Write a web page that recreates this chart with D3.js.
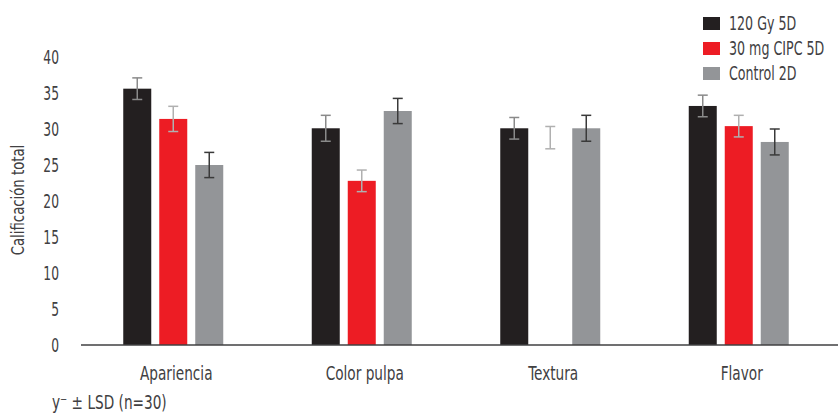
<!DOCTYPE html>
<html>
<head>
<meta charset="utf-8">
<script src="https://cdn.jsdelivr.net/npm/d3@7"></script>
<style>
  body { margin: 0; background: #fff; }
  svg text { font-family: "DejaVu Sans Condensed", "DejaVu Sans", sans-serif; fill: #414042; }
</style>
</head>
<body>
<svg id="chart" width="838" height="417"></svg>
<script>
// data
var categories = ["Apariencia", "Color pulpa", "Textura", "Flavor"];
var seriesNames = ["120 Gy 5D", "30 mg CIPC 5D", "Control 2D"];
var gy120 = [35.6, 30.1, 30.1, 33.2];
var gy120Err = [1.5, 1.8, 1.5, 1.5];
var cipc30 = [31.4, 22.8, 28.8, 30.4];
var cipc30Err = [1.75, 1.5, 1.55, 1.5];
var control2d = [25.0, 32.5, 30.1, 28.2];
var control2dErr = [1.75, 1.75, 1.8, 1.8];
var yTicks = [0, 5, 10, 15, 20, 25, 30, 35, 40];
// in the original the CIPC bar for Textura is not drawn, only its error bar
var hiddenBars = [["Textura", "30 mg CIPC 5D"]];

var colors = ["#231f20", "#ed1c24", "#939598"];
var errColors = ["#8a8a8a", "#b0b0b0", "#3a3a3a"];

var values = [gy120, cipc30, control2d];
var errs = [gy120Err, cipc30Err, control2dErr];

var rows = [];
categories.forEach(function(c, i) {
    seriesNames.forEach(function(s, j) {
        rows.push({cat: c, series: s, si: j, v: values[j][i], e: errs[j][i]});
    });
});

var svg = d3.select("#chart");

var y = d3.scaleLinear().domain([0, 40]).range([345, 57]);
var x0 = d3.scaleBand().domain(categories).range([79, 833]);
var x1 = d3.scaleBand().domain(seriesNames).range([-50, 50]).paddingInner(0.222);

function isHidden(d) {
    return hiddenBars.some(function(h) { return h[0] == d.cat && h[1] == d.series; });
}

// no condensed font available, so squeeze the text horizontally
function narrow(sel, size, sx) {
    sel.style("font-size", size + "px")
        .attr("font-family", null)
        .attr("transform", function() {
            var t = d3.select(this).attr("transform") || "";
            return t + " scale(" + sx + ",1)";
        });
}

// bars
svg.append("g").selectAll("rect")
    .data(rows)
    .enter()
    .append("rect")
    .attr("x", function(d) { return x0(d.cat) + x0.bandwidth() / 2 + x1(d.series); })
    .attr("y", function(d) { return y(d.v); })
    .attr("width", x1.bandwidth())
    .attr("height", function(d) { return y(0) - y(d.v); })
    .attr("fill", function(d) { return isHidden(d) ? "none" : colors[d.si]; });

// error bars
var eb = svg.append("g").selectAll("g")
    .data(rows)
    .enter()
    .append("g")
    .attr("stroke", function(d) { return errColors[d.si]; })
    .attr("stroke-width", 1.5)
    .attr("transform", function(d) {
        return "translate(" + (x0(d.cat) + x0.bandwidth() / 2 + x1(d.series) + x1.bandwidth() / 2) + ",0)";
    });
eb.append("line")
    .attr("y1", function(d) { return y(d.v + d.e); })
    .attr("y2", function(d) { return y(d.v - d.e); });
eb.append("line").attr("x1", -5).attr("x2", 5)
    .attr("y1", function(d) { return y(d.v + d.e); })
    .attr("y2", function(d) { return y(d.v + d.e); });
eb.append("line").attr("x1", -5).attr("x2", 5)
    .attr("y1", function(d) { return y(d.v - d.e); })
    .attr("y2", function(d) { return y(d.v - d.e); });

// x axis
var xAxis = svg.append("g")
    .attr("transform", "translate(0," + y(0) + ")")
    .call(d3.axisBottom(x0).tickSize(0).tickPadding(22));
xAxis.select(".domain").attr("d", "M81,0H838").attr("stroke", "#414042").attr("stroke-width", 1.5);
xAxis.selectAll(".tick").attr("transform", function(d) {
    return "translate(" + (x0(d) + x0.bandwidth() / 2 + 3) + ",0)";
});
narrow(xAxis.selectAll("text"), 19, 0.8);

// y axis (labels only)
var yAxis = svg.append("g")
    .attr("transform", "translate(59,0)")
    .call(d3.axisLeft(y).tickValues(yTicks).tickSize(0).tickPadding(0));
yAxis.select(".domain").remove();
narrow(yAxis.selectAll("text"), 19, 0.72);

var yLabel = svg.append("text")
    .attr("transform", "translate(24,200) rotate(-90)")
    .attr("text-anchor", "middle")
    .text("Calificación total");
narrow(yLabel, 18, 0.82);

// legend
var lg = svg.append("g").selectAll("g")
    .data(seriesNames)
    .enter()
    .append("g")
    .attr("transform", function(d, i) { return "translate(703," + (17 + i * 25) + ")"; });
lg.append("rect").attr("width", 17).attr("height", 13)
    .attr("fill", function(d, i) { return colors[i]; });
var lgText = lg.append("text").attr("x", 26 / 0.74).attr("y", 6.5).attr("dy", "0.35em")
    .text(function(d) { return d; });
narrow(lgText, 19, 0.74);

// footnote
var foot = svg.append("text")
    .attr("x", 52 / 0.8).attr("y", 409)
    .text("y\u207B \u00B1 LSD (n=30)");
narrow(foot, 19, 0.8);
</script>
</body>
</html>
